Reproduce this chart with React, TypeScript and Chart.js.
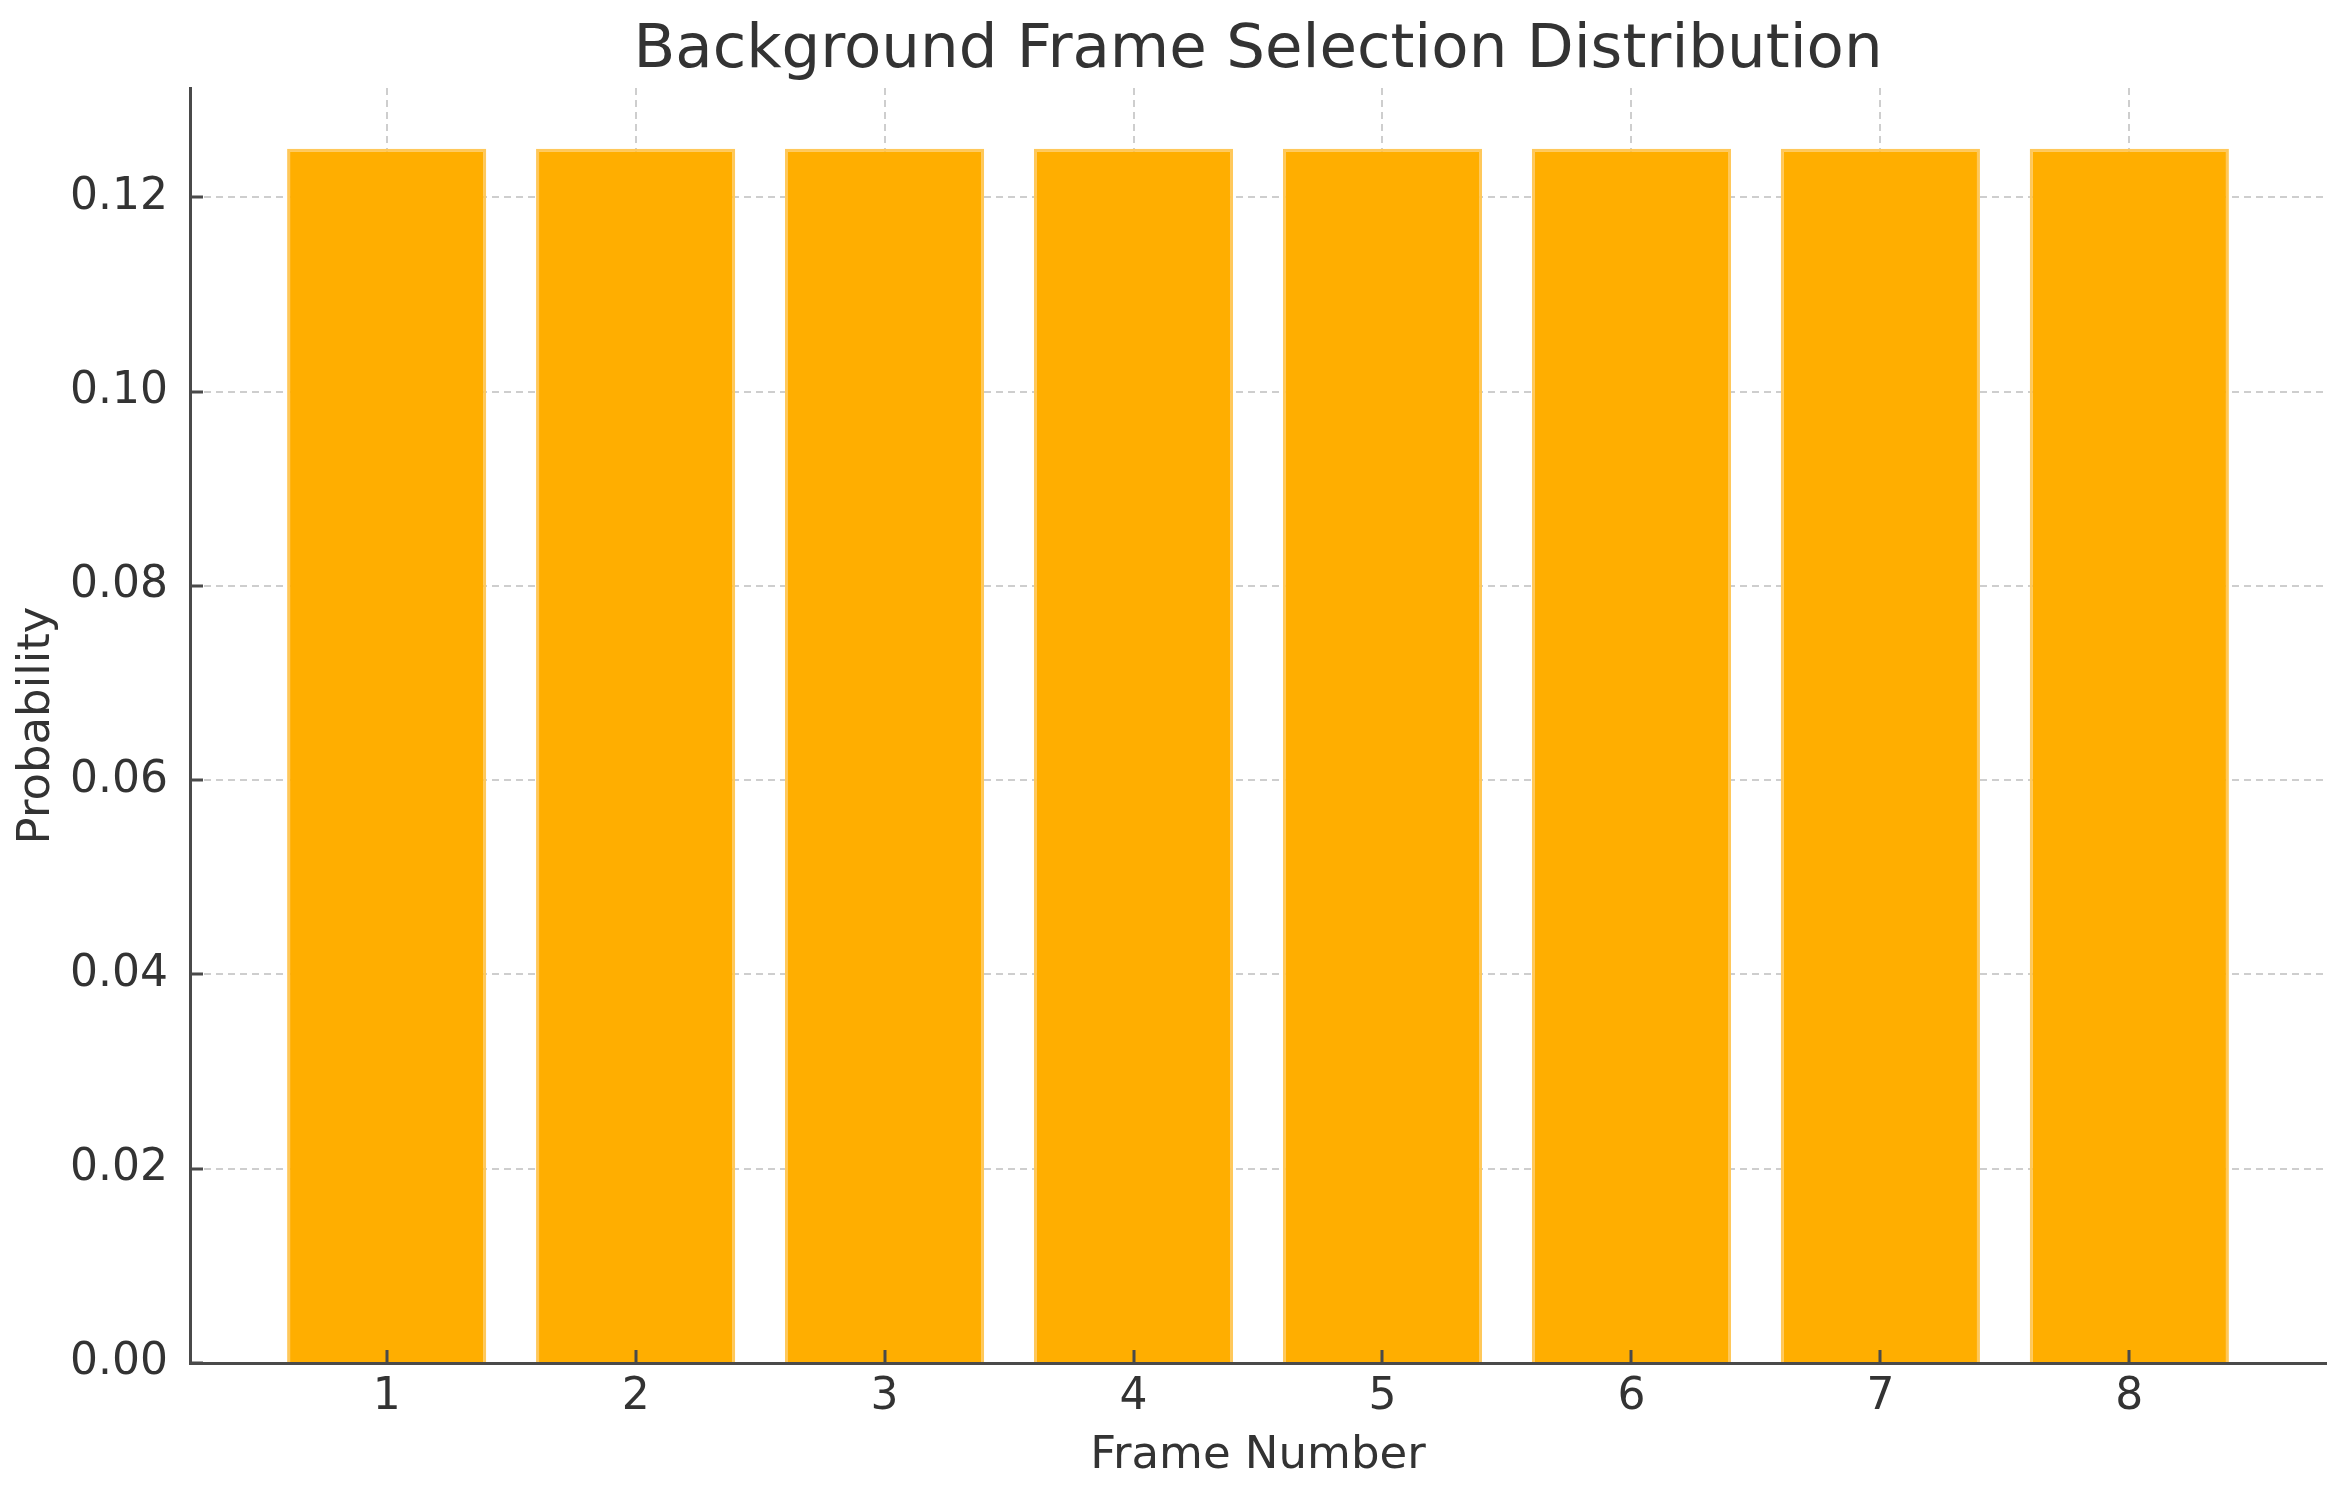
import React, { useEffect, useRef } from "react";
import { Chart, registerables } from "chart.js";

Chart.register(...registerables);

const frameNumbers = [1, 2, 3, 4, 5, 6, 7, 8];
const probabilities = [0.125, 0.125, 0.125, 0.125, 0.125, 0.125, 0.125, 0.125];
const yTickValues = [0, 0.02, 0.04, 0.06, 0.08, 0.1, 0.12];
const chartTitle = "Background Frame Selection Distribution";
const xLabel = "Frame Number";
const yLabel = "Probability";

const W = 2346;
const H = 1498;
const FONT = "'DejaVu Sans', sans-serif";
const TEXT = "#333333";
const SPINE = "#4a4a4a";
const GRID = "rgba(185,185,185,0.7)";

const titlePlugin = {
  id: "axTitle",
  afterDraw(chart: any) {
    const { ctx, chartArea } = chart;
    ctx.save();
    ctx.font = `61px ${FONT}`;
    ctx.fillStyle = TEXT;
    ctx.textAlign = "center";
    ctx.textBaseline = "middle";
    ctx.fillText(chartTitle, (chartArea.left + chartArea.right) / 2, 51);
    ctx.restore();
  },
};

const innerTicks = {
  id: "innerTicks",
  afterDraw(chart: any) {
    const { ctx, chartArea, scales } = chart;
    ctx.save();
    ctx.strokeStyle = SPINE;
    ctx.lineWidth = 3;
    ctx.setLineDash([]);
    ctx.beginPath();
    for (const v of frameNumbers) {
      const x = Math.round(scales.x.getPixelForValue(v));
      ctx.moveTo(x, chartArea.bottom);
      ctx.lineTo(x, chartArea.bottom - 13);
    }
    for (const v of yTickValues) {
      const y = Math.round(scales.y.getPixelForValue(v));
      ctx.moveTo(chartArea.left, y);
      ctx.lineTo(chartArea.left + 13, y);
    }
    ctx.stroke();
    ctx.restore();
  },
};

export default function App() {
  const ref = useRef<HTMLCanvasElement | null>(null);
  useEffect(() => {
    document.body.style.margin = "0";
    const canvas = ref.current!;
    const chart = new Chart(canvas, {
      type: "bar",
      data: {
        datasets: [
          {
            data: frameNumbers.map((f, i) => ({ x: f, y: probabilities[i] })),
            backgroundColor: "#FFAE00",
            borderColor: "#FFC85A",
            borderWidth: 3,
            borderSkipped: "bottom",
            barPercentage: 0.8,
            categoryPercentage: 1,
          },
        ],
      },
      options: {
        responsive: false,
        animation: false,
        devicePixelRatio: 1,
        layout: { padding: { left: 0, right: 20, top: 88, bottom: 0 } },
        plugins: { legend: { display: false }, title: { display: false }, tooltip: { enabled: false } },
        scales: {
          x: {
            type: "linear",
            min: 0.21,
            max: 8.79,
            offset: false,
            z: 1,
            afterBuildTicks: (s: any) => {
              s.ticks = frameNumbers.map((v) => ({ value: v }));
            },
            afterFit: (s: any) => {
              s.height = H - 1363;
            },
            grid: {
              offset: false,
              color: GRID,
              lineWidth: 2,
              drawTicks: false,
              tickLength: 0,
            },
            border: { display: true, color: SPINE, width: 3, dash: [7, 5] },
            ticks: {
              color: TEXT,
              font: { family: FONT, size: 44 },
              padding: 8,
              maxRotation: 0,
              autoSkip: false,
              callback: (v: any) => String(v),
            },
            title: {
              display: true,
              text: xLabel,
              color: TEXT,
              font: { family: FONT, size: 45 },
              padding: { top: 0, bottom: 15 },
            },
          },
          y: {
            min: 0,
            max: 0.13125,
            z: 1,
            afterBuildTicks: (s: any) => {
              s.ticks = yTickValues.map((v) => ({ value: v }));
            },
            afterFit: (s: any) => {
              s.width = 190;
            },
            grid: {
              color: GRID,
              lineWidth: 2,
              drawTicks: false,
              tickLength: 0,
            },
            border: { display: true, color: SPINE, width: 3, dash: [7, 5] },
            ticks: {
              color: TEXT,
              font: { family: FONT, size: 44 },
              padding: 22,
              callback: (v: any) => Number(v).toFixed(2),
            },
            title: {
              display: true,
              text: yLabel,
              color: TEXT,
              font: { family: FONT, size: 45 },
              padding: { top: 10, bottom: 0 },
            },
          },
        },
      },
      plugins: [titlePlugin, innerTicks],
    } as any);
    return () => chart.destroy();
  }, []);
  return (
    <div style={{ width: W, height: H }}>
      <canvas ref={ref} width={W} height={H} style={{ width: W, height: H, display: "block" }} />
    </div>
  );
}
